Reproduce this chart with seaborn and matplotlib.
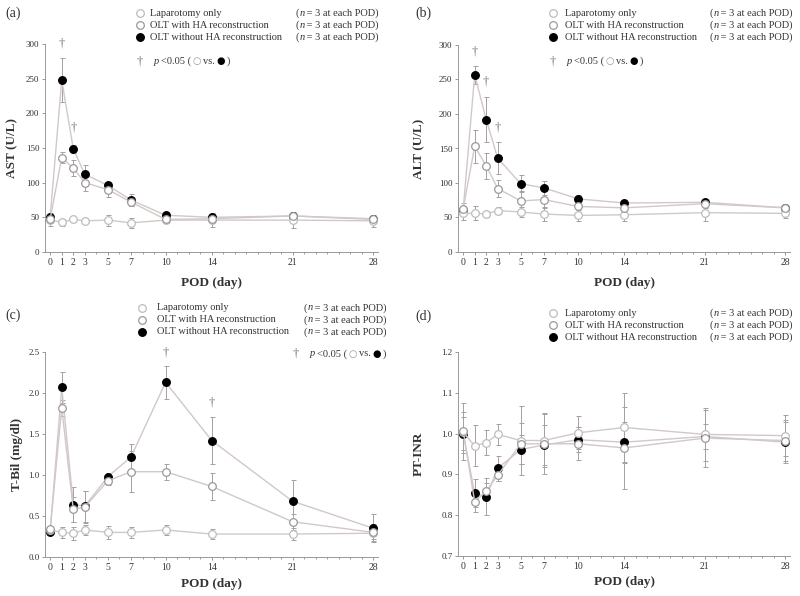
import matplotlib
matplotlib.use("Agg")
import matplotlib.pyplot as plt
from matplotlib.lines import Line2D
import seaborn as sns

days = [0, 1, 2, 3, 5, 7, 10, 14, 21, 28]
groups = ["Laparotomy only", "OLT with HA reconstruction", "OLT without HA reconstruction"]

# (a) AST
ast_lap = [46, 43, 47, 45, 46, 42, 46, 46, 46, 45]
ast_lap_sd = [8, 5, 4, 3, 8, 7, 4, 10, 11, 9]
ast_ha = [48, 136, 121, 100, 90, 72, 47, 48, 52, 47]
ast_ha_sd = [6, 8, 12, 12, 10, 5, 3, 6, 4, 4]
ast_no = [51, 248, 149, 112, 96, 75, 53, 50, 52, 48]
ast_no_sd = [5, 32, 6, 13, 5, 8, 3, 5, 3, 4]
ast_dag_x = [1, 2]
ast_dag_y = [300, 179]

# (b) ALT
alt_lap = [56, 56, 55, 60, 58, 55, 53, 54, 57, 56]
alt_lap_sd = [10, 10, 4, 5, 7, 10, 8, 9, 12, 7]
alt_ha = [63, 153, 125, 92, 74, 76, 66, 64, 70, 64]
alt_ha_sd = [8, 24, 19, 12, 14, 12, 8, 7, 6, 4]
alt_no = [61, 257, 192, 136, 99, 93, 77, 71, 72, 64]
alt_no_sd = [4, 13, 33, 23, 12, 10, 6, 3, 4, 3]
alt_dag_x = [1, 2, 3]
alt_dag_y = [290, 247, 180]

# (c) T-Bil
tbil_lap = [0.33, 0.30, 0.29, 0.33, 0.30, 0.30, 0.33, 0.28, 0.28, 0.29]
tbil_lap_sd = [0.04, 0.07, 0.08, 0.06, 0.08, 0.07, 0.06, 0.06, 0.07, 0.07]
tbil_ha = [0.34, 1.82, 0.58, 0.61, 0.93, 1.04, 1.04, 0.86, 0.43, 0.30]
tbil_ha_sd = [0.03, 0.10, 0.15, 0.20, 0.05, 0.25, 0.10, 0.17, 0.10, 0.10]
tbil_no = [0.31, 2.07, 0.64, 0.62, 0.98, 1.22, 2.13, 1.42, 0.68, 0.35]
tbil_no_sd = [0.03, 0.19, 0.21, 0.19, 0.05, 0.16, 0.20, 0.29, 0.26, 0.17]
tbil_dag_x = [10, 14]
tbil_dag_y = [2.49, 1.89]

# (d) PT-INR
inr_lap = [1.003, 0.970, 0.978, 0.998, 0.983, 0.983, 1.002, 1.015, 0.998, 0.995]
inr_lap_sd = [0.05, 0.05, 0.03, 0.025, 0.085, 0.065, 0.04, 0.085, 0.065, 0.05]
inr_ha = [1.006, 0.833, 0.859, 0.898, 0.975, 0.975, 0.975, 0.965, 0.989, 0.983]
inr_ha_sd = [0.07, 0.025, 0.02, 0.015, 0.05, 0.075, 0.04, 0.10, 0.07, 0.05]
inr_no = [1.000, 0.854, 0.845, 0.915, 0.961, 0.972, 0.985, 0.979, 0.993, 0.979]
inr_no_sd = [0.04, 0.035, 0.045, 0.03, 0.035, 0.05, 0.03, 0.05, 0.03, 0.05]

sns.set_style("ticks")
plt.rcParams["font.family"] = ["Liberation Serif", "DejaVu Serif"]

W, H = 800, 596
line_c = "#d2c8c8"
err_c = "#a8a0a0"
txt_c = "#333333"
edge_lap = "#bdbdbd"
edge_ha = "#9a9a9a"
LEG_FS = 7.5

fig = plt.figure(figsize=(8, 5.96), dpi=100)
renderer = fig.canvas.get_renderer()


def fx(px):
    return px / W


def fy(py):
    return 1 - py / H


def make_ax(left, right, top, bottom):
    return fig.add_axes([fx(left), fy(bottom), fx(right - left), (bottom - top) / H])


def draw_panel(ax, series, ylim, yticks, yfmt, ylabel, ylab_x, xlab_y, dag_x, dag_y):
    styles = [("white", edge_lap, 3), ("white", edge_ha, 4), ("black", "black", 2)]
    for (vals, sd), (fc, ec, z) in zip(series, styles):
        ax.errorbar(days, vals, yerr=sd, fmt="none", ecolor=err_c, elinewidth=0.7,
                    capsize=1.8, capthick=0.7, zorder=1)
        sns.lineplot(x=days, y=vals, ax=ax, color=line_c, lw=1.0, marker="o",
                     markersize=5.5, markerfacecolor=fc, markeredgecolor=ec,
                     markeredgewidth=0.9, zorder=z)
    for x, y in zip(dag_x, dag_y):
        ax.text(x, y, "\u2020", ha="center", va="center", fontsize=9, color="#777777")
    ax.set_xlim(-0.45, 28.4)
    ax.set_ylim(*ylim)
    ax.set_xticks(days)
    ax.set_xticklabels([str(d) for d in days], fontsize=7, color=txt_c)
    ax.set_xticks(range(0, 29), minor=True)
    ax.set_yticks(yticks)
    ax.set_yticklabels([yfmt.format(v) for v in yticks], fontsize=6.5, color=txt_c)
    ax.tick_params(axis="both", which="both", length=2, width=0.6, color="#888888", pad=2)
    ax.tick_params(axis="x", which="minor", length=1.5)
    for s in ["top", "right"]:
        ax.spines[s].set_visible(False)
    for s in ["left", "bottom"]:
        ax.spines[s].set_color("#999999")
        ax.spines[s].set_linewidth(0.7)
    ax.set_ylabel(ylabel, fontsize=9.5, fontweight="bold", color=txt_c)
    ax.set_xlabel("POD (day)", fontsize=9.5, fontweight="bold", color=txt_c)
    ax.yaxis.set_label_coords(ylab_x, 0.5)
    ax.xaxis.set_label_coords(0.5, xlab_y)


def right_chain(parts, rx, y):
    # place text pieces right to left so the last one ends at rx
    x = fx(rx)
    for s, style in reversed(parts):
        t = fig.text(x, fy(y), s, fontsize=LEG_FS, color=txt_c, va="center", ha="right",
                     style=style)
        bb = t.get_window_extent(renderer)
        x = bb.x0 / fig.bbox.width


def legend(mx, tx, rx, y0, dag=None):
    marks = [("white", edge_lap), ("white", edge_ha), ("black", "black")]
    for i, (name, (fc, ec)) in enumerate(zip(groups, marks)):
        y = y0 + i * 12
        fig.add_artist(Line2D([fx(mx)], [fy(y)], marker="o", markersize=5.5,
                              markerfacecolor=fc, markeredgecolor=ec, markeredgewidth=0.9,
                              transform=fig.transFigure))
        fig.text(fx(tx), fy(y), name, fontsize=LEG_FS, color=txt_c, va="center")
        right_chain([("(", "normal"), ("n", "italic"), (" = 3 at each POD)", "normal")], rx, y)
    if dag is not None:
        dx, dy = dag
        fig.text(fx(dx), fy(dy), "\u2020", fontsize=9, color="#777777", va="center", ha="center")
        fig.text(fx(dx + 14), fy(dy), "p", style="italic", fontsize=LEG_FS, color=txt_c,
                 va="center")
        fig.text(fx(dx + 21), fy(dy), "<0.05 (", fontsize=LEG_FS, color=txt_c, va="center")
        fig.text(fx(dx + 57), fy(dy), "\u25cb", fontsize=7, color="#999999", va="center",
                 ha="center", family=["DejaVu Sans"])
        fig.text(fx(dx + 63), fy(dy), "vs.", fontsize=LEG_FS, color=txt_c, va="center")
        fig.text(fx(dx + 81), fy(dy), "\u25cf", fontsize=7, color="black", va="center",
                 ha="center", family=["DejaVu Sans"])
        fig.text(fx(dx + 87), fy(dy), ")", fontsize=LEG_FS, color=txt_c, va="center")


ax_a = make_ax(45, 378, 44, 252)
draw_panel(ax_a, [(ast_lap, ast_lap_sd), (ast_ha, ast_ha_sd), (ast_no, ast_no_sd)],
           (0, 300), [0, 50, 100, 150, 200, 250, 300], "{:d}", "AST (U/L)", -0.08, -0.12,
           ast_dag_x, ast_dag_y)
legend(140, 150, 379, 13, dag=(140, 61))
fig.text(fx(5), fy(13), "(a)", fontsize=10, color=txt_c, va="center")

ax_b = make_ax(458, 790, 45, 252)
draw_panel(ax_b, [(alt_lap, alt_lap_sd), (alt_ha, alt_ha_sd), (alt_no, alt_no_sd)],
           (0, 300), [0, 50, 100, 150, 200, 250, 300], "{:d}", "ALT (U/L)", -0.10, -0.12,
           alt_dag_x, alt_dag_y)
legend(553, 565, 793, 13, dag=(553, 61))
fig.text(fx(415), fy(13), "(b)", fontsize=10, color=txt_c, va="center")

ax_c = make_ax(45, 378, 352, 557)
draw_panel(ax_c, [(tbil_lap, tbil_lap_sd), (tbil_ha, tbil_ha_sd), (tbil_no, tbil_no_sd)],
           (0, 2.5), [0.0, 0.5, 1.0, 1.5, 2.0, 2.5], "{:.1f}", "T-Bil (mg/dl)", -0.066, -0.10,
           tbil_dag_x, tbil_dag_y)
legend(142, 157, 387, 308, dag=(296, 354))
fig.text(fx(5), fy(315), "(c)", fontsize=10, color=txt_c, va="center")

ax_d = make_ax(458, 790, 352, 556)
draw_panel(ax_d, [(inr_lap, inr_lap_sd), (inr_ha, inr_ha_sd), (inr_no, inr_no_sd)],
           (0.7, 1.2), [0.7, 0.8, 0.9, 1.0, 1.1, 1.2], "{:.1f}", "PT-INR", -0.10, -0.10,
           [], [])
legend(553, 565, 793, 313)
fig.text(fx(415), fy(316), "(d)", fontsize=10, color=txt_c, va="center")

fig.savefig("out.png", dpi=100)
